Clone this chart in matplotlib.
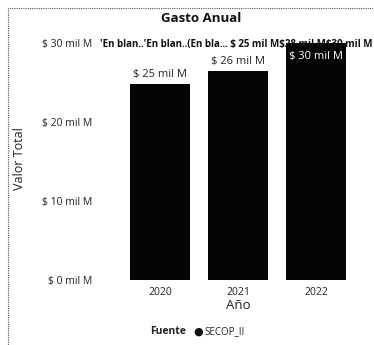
import matplotlib
matplotlib.use("Agg")
import matplotlib.pyplot as plt
from matplotlib.patches import Rectangle

years = ["2020", "2021", "2022"]
values = [24.8, 26.4, 30.0]  # mil M
bar_labels = ["$ 25 mil M", "$ 26 mil M", "$ 30 mil M"]
yticks = [0, 10, 20, 30]
ytick_labels = ["$ 0 mil M", "$ 10 mil M", "$ 20 mil M", "$ 30 mil M"]
overflow_text = "'En blan..'En blan..(En bla... $ 25 mil M$28 mil M$30 mil M"

plt.rcParams['font.family'] = ['Open Sans', 'DejaVu Sans']

W, H = 374, 345
fig = plt.figure(figsize=(W / 100, H / 100), dpi=100)
fig.patch.set_facecolor("white")

# axes: x 121..355, y 38..280 (pixels from top)
ax = fig.add_axes([121 / W, 1 - 280 / H, (355 - 121) / W, (280 - 38) / H])
x = range(len(years))
ax.bar(x, values, width=0.77, color="#050505")
ax.set_xlim(-0.5, 2.5)
ax.set_ylim(0, 30.6)
ax.set_yticks(yticks)
ax.set_yticklabels(ytick_labels, fontsize=7.5, color="#222222")
ax.set_xticks(list(x))
ax.set_xticklabels(years, fontsize=7.5, color="#222222")
ax.tick_params(axis="both", length=0)
ax.tick_params(axis="y", pad=21)
ax.tick_params(axis="x", pad=5)
for s in ax.spines.values():
    s.set_visible(False)

for i, (v, lab) in enumerate(zip(values, bar_labels)):
    if i == 2:
        ax.text(i, v - 1.0, lab, ha="center", va="top", fontsize=8, color="white")
    else:
        ax.text(i, v + 0.5, lab, ha="center", va="bottom", fontsize=8, color="#222222")

ax.set_xlabel("Año", fontsize=9.5, color="#222222", labelpad=1)
ax.set_ylabel("Valor Total", fontsize=9, color="#222222")
ax.yaxis.set_label_coords(-95 / (355 - 121), 0.5)

fig.text(201 / W, 1 - 18 / H, "Gasto Anual", ha="center", va="center",
         fontsize=9.5, fontweight="bold", color="#111111")
fig.text(100 / W, 1 - 45 / H, overflow_text, ha="left", va="center",
         fontsize=7, fontweight="bold", color="#111111")

# legend
fig.text(150 / W, 1 - 332 / H, "Fuente", ha="left", va="center",
         fontsize=7.5, fontweight="bold", color="#222222")
fig.text(193 / W, 1 - 332 / H, "●", ha="left", va="center",
         fontsize=8, color="#111111", family=["DejaVu Sans"])
fig.text(204 / W, 1 - 332 / H, "SECOP_II", ha="left", va="center",
         fontsize=7, color="#222222")

# dotted border
border = Rectangle((8 / W, -0.05), 1.2, 1 - 8 / H + 0.05, transform=fig.transFigure,
                   fill=False, linestyle=(0, (1, 1)), linewidth=0.8, edgecolor="#555555")
fig.patches.append(border)

fig.savefig("out.png", dpi=100)
